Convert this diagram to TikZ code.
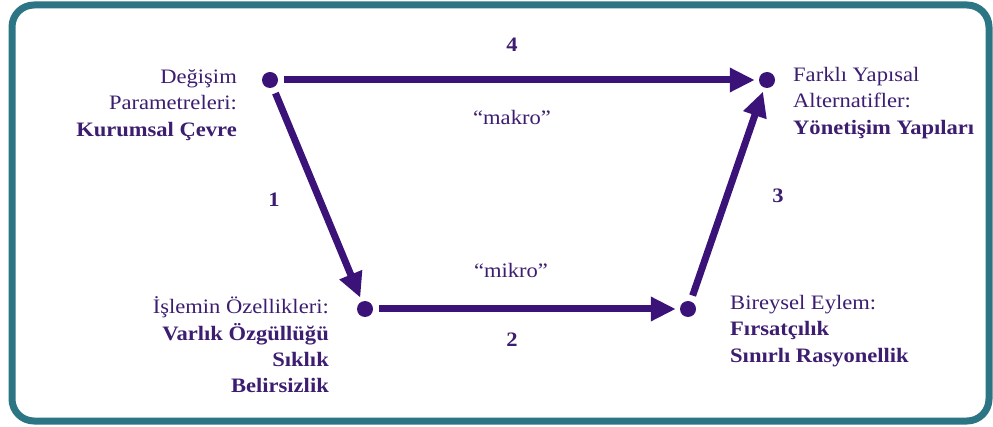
\documentclass[tikz,border=0pt]{standalone}
\usepackage{fontspec}
\setmainfont{Liberation Serif}[FakeStretch=1.1]
\usetikzlibrary{arrows.meta}
\definecolor{txt}{HTML}{3C1D70}
\definecolor{arr}{HTML}{3B1278}
\definecolor{frm}{HTML}{2B7585}
\tikzset{
  dotnode/.style={circle,fill=arr,inner sep=0pt,minimum size=16pt},
  conn/.style={draw=arr,line width=7pt,-{Triangle[length=25pt,width=23pt]},shorten <=6pt,shorten >=4pt},
  lbl/.style={text=txt,font=\fontsize{20.5}{26.3}\selectfont,inner sep=0pt},
  num/.style={text=txt,font=\fontsize{20.5}{26.3}\selectfont\bfseries,inner sep=0pt}
}
\begin{document}
\begin{tikzpicture}[x=1pt,y=-1pt]
\useasboundingbox (0,0) rectangle (993,427);
\draw[frm,line width=7pt,rounded corners=22pt] (12,5) rectangle (989,421);
\node[dotnode] (A) at (270,80) {};
\node[dotnode] (B) at (767,80) {};
\node[dotnode] (C) at (365,309) {};
\node[dotnode] (D) at (688,309) {};
\draw[conn] (A) -- (B);
\draw[conn] (A) -- (C);
\draw[conn] (C) -- (D);
\draw[conn] (D) -- (B);
\node[lbl,align=right,anchor=east] (tA) at (237,105) {Değişim\\Parametreleri:\\\textbf{Kurumsal Çevre}};
\node[lbl,align=left,anchor=west] (tB) at (793,103) {Farklı Yapısal\\Alternatifler:\\\textbf{Yönetişim Yapıları}};
\node[lbl,align=right,anchor=east] (tC) at (329,345) {İşlemin Özellikleri:\\\textbf{Varlık Özgüllüğü}\\\textbf{Sıklık}\\\textbf{Belirsizlik}};
\node[lbl,align=left,anchor=west] (tD) at (730,331) {Bireysel Eylem:\\\textbf{Fırsatçılık}\\\textbf{Sınırlı Rasyonellik}};
\node[num] (n4) at (512,45) {4};
\node[lbl] (mk) at (512,117) {“makro”};
\node[num] (n1) at (274,200) {1};
\node[num] (n3) at (778,196) {3};
\node[lbl] (mi) at (511,270) {“mikro”};
\node[num] (n2) at (512,340) {2};
\end{tikzpicture}
\end{document}
